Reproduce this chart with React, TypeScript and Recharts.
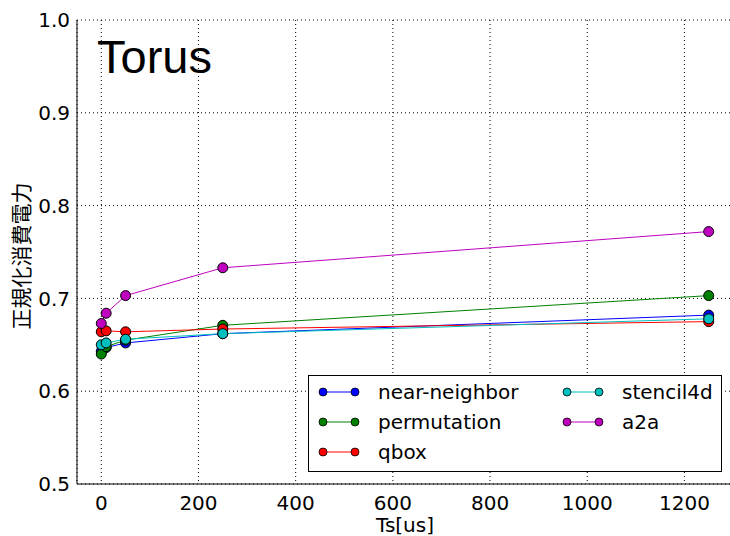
import { LineChart, Line, XAxis, YAxis, CartesianGrid } from 'recharts';

const tsValues = [0, 10, 50, 250, 1250];
const nearNeighbor = [0.643, 0.647, 0.652, 0.662, 0.682];
const permutation = [0.640, 0.648, 0.655, 0.671, 0.703];
const qbox = [0.664, 0.665, 0.664, 0.667, 0.675];
const stencil4d = [0.650, 0.652, 0.656, 0.662, 0.678];
const a2a = [0.673, 0.684, 0.703, 0.733, 0.772];

const xTicks = [0, 200, 400, 600, 800, 1000, 1200];
const yTicks = [0.5, 0.6, 0.7, 0.8, 0.9, 1.0];

const seriesList = [
  { key: 'near-neighbor', values: nearNeighbor, color: '#0000ff' },
  { key: 'permutation', values: permutation, color: '#008000' },
  { key: 'qbox', values: qbox, color: '#ff0000' },
  { key: 'stencil4d', values: stencil4d, color: '#00bfbf' },
  { key: 'a2a', values: a2a, color: '#bf00bf' },
];

const data = tsValues.map((ts, i) => {
  const row: { [k: string]: number } = { ts };
  seriesList.forEach((s) => {
    row[s.key] = s.values[i];
  });
  return row;
});

const FONT = '"DejaVu Sans", sans-serif';
const noLabel = () => <g />;

// small legend sample: line with a dot at each end
const LegendItem = ({ name, color }: { name: string; color: string }) => (
  <div style={{ display: 'flex', alignItems: 'center', height: 30 }}>
    <svg width={48} height={14} style={{ marginRight: 13 }}>
      <line x1={6} y1={7} x2={38} y2={7} stroke={color} strokeWidth={1} />
      <circle cx={6} cy={7} r={4} fill={color} stroke="#000" strokeWidth={0.8} />
      <circle cx={38} cy={7} r={4} fill={color} stroke="#000" strokeWidth={0.8} />
    </svg>
    <span>{name}</span>
  </div>
);

const YLabel = () => (
  <text
    x={20}
    y={256}
    transform="rotate(-90 20 256)"
    textAnchor="middle"
    dominantBaseline="central"
    fill="#000"
    fontSize={21}
    fontFamily='"Noto Sans CJK JP", sans-serif'
  >
    正規化消費電力
  </text>
);

export default function App() {
  const col1 = seriesList.slice(0, 3);
  const col2 = seriesList.slice(3);
  return (
    <div style={{ position: 'absolute', left: 0, top: 0, width: 730, height: 536, overflow: 'hidden', background: '#fff', fontFamily: FONT }}>
      <LineChart width={730} height={536} data={data} margin={{ top: 20, right: -3, left: 0, bottom: 0 }} style={{ overflow: 'visible' }}>
        <CartesianGrid xAxisId="main" yAxisId="main" stroke="#000" strokeDasharray="1 3" strokeWidth={1} />
        <XAxis
          xAxisId="main"
          dataKey="ts"
          type="number"
          domain={[-50, 1300]}
          ticks={xTicks}
          height={52}
          tickLine={false}
          axisLine={{ stroke: '#000' }}
          tick={{ fill: '#000', fontSize: 20, fontFamily: FONT }}
          tickMargin={6}
          label={{ value: 'Ts[us]', position: 'insideBottom', offset: 4, fill: '#000', fontSize: 20, fontFamily: FONT }}
        />
        <YAxis
          yAxisId="main"
          type="number"
          domain={[0.5, 1.0]}
          ticks={yTicks}
          width={77}
          tickLine={false}
          axisLine={{ stroke: '#000' }}
          tick={{ fill: '#000', fontSize: 20, fontFamily: FONT }}
          tickFormatter={(v: number) => v.toFixed(1)}
          tickMargin={1}
          label={<YLabel />}
        />
        {/* inward tick marks on all four sides */}
        <XAxis xAxisId="btm" dataKey="ts" type="number" domain={[-50, 1300]} ticks={xTicks} orientation="bottom" mirror height={0} tick={noLabel} axisLine={false} tickLine={{ stroke: '#000' }} tickSize={5} />
        <XAxis xAxisId="top" dataKey="ts" type="number" domain={[-50, 1300]} ticks={xTicks} orientation="top" mirror height={0} tick={noLabel} axisLine={{ stroke: '#000' }} tickLine={{ stroke: '#000' }} tickSize={5} />
        <YAxis yAxisId="lft" type="number" domain={[0.5, 1.0]} ticks={yTicks} orientation="left" mirror width={0} tick={noLabel} axisLine={false} tickLine={{ stroke: '#000' }} tickSize={5} />
        <YAxis yAxisId="rgt" type="number" domain={[0.5, 1.0]} ticks={yTicks} orientation="right" mirror width={0} tick={noLabel} axisLine={{ stroke: '#000' }} tickLine={{ stroke: '#000' }} tickSize={5} />
        {seriesList.map((s) => (
          <Line
            key={s.key}
            xAxisId="main"
            yAxisId="main"
            type="linear"
            dataKey={s.key}
            stroke={s.color}
            strokeWidth={1}
            dot={{ r: 5, fill: s.color, stroke: '#000', strokeWidth: 1 }}
            activeDot={false}
            isAnimationActive={false}
          />
        ))}
      </LineChart>
      <div style={{ position: 'absolute', left: 97, top: 29, fontFamily: '"Liberation Sans", Arial, sans-serif', fontSize: 47, lineHeight: '56px', color: '#000' }}>
        Torus
      </div>
      <div
        style={{
          position: 'absolute',
          left: 308,
          top: 375,
          width: 412,
          height: 95,
          border: '1px solid #000',
          background: '#fff',
          display: 'flex',
          fontSize: 20,
          color: '#000',
          boxSizing: 'content-box',
        }}
      >
        <div style={{ marginLeft: 8, marginTop: 1, width: 244 }}>
          {col1.map((s) => (
            <LegendItem key={s.key} name={s.key} color={s.color} />
          ))}
        </div>
        <div style={{ marginTop: 1 }}>
          {col2.map((s) => (
            <LegendItem key={s.key} name={s.key} color={s.color} />
          ))}
        </div>
      </div>
    </div>
  );
}
